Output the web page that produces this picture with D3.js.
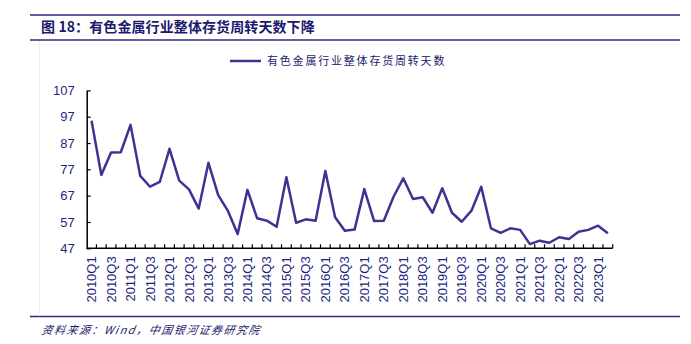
<!DOCTYPE html>
<html>
<head>
<meta charset="utf-8">
<script src="https://cdn.jsdelivr.net/npm/d3@7/dist/d3.min.js"></script>
<style>
  html, body { margin: 0; padding: 0; background: #ffffff; }
  svg { display: block; }
</style>
</head>
<body>
<svg id="chart" width="691" height="344"></svg>
<script>
// Quarterly inventory turnover days, non-ferrous metals industry
const quarters = [
  "2010Q1","2010Q2","2010Q3","2010Q4","2011Q1","2011Q2","2011Q3","2011Q4",
  "2012Q1","2012Q2","2012Q3","2012Q4","2013Q1","2013Q2","2013Q3","2013Q4",
  "2014Q1","2014Q2","2014Q3","2014Q4","2015Q1","2015Q2","2015Q3","2015Q4",
  "2016Q1","2016Q2","2016Q3","2016Q4","2017Q1","2017Q2","2017Q3","2017Q4",
  "2018Q1","2018Q2","2018Q3","2018Q4","2019Q1","2019Q2","2019Q3","2019Q4",
  "2020Q1","2020Q2","2020Q3","2020Q4","2021Q1","2021Q2","2021Q3","2021Q4",
  "2022Q1","2022Q2","2022Q3","2022Q4","2023Q1","2023Q2"
];
const turnoverDays = [
  95.5, 74.9, 83.4, 83.5, 93.9, 74.5, 70.4, 72.2,
  84.8, 72.7, 69.4, 62.1, 79.5, 67.2, 61.2, 52.4,
  69.2, 58.4, 57.5, 55.2, 74.0, 56.7, 58.0, 57.5,
  76.4, 58.8, 53.7, 54.1, 69.5, 57.4, 57.5, 66.6,
  73.6, 65.7, 66.4, 60.5, 69.8, 60.5, 57.1, 61.3,
  70.4, 54.6, 52.9, 54.6, 54.0, 48.6, 49.9, 49.1,
  51.2, 50.5, 53.3, 54.0, 55.6, 52.7
];
// Every other quarter is labelled
const xTickLabels = [
  "2010Q1","2010Q3","2011Q1","2011Q3","2012Q1","2012Q3","2013Q1","2013Q3",
  "2014Q1","2014Q3","2015Q1","2015Q3","2016Q1","2016Q3","2017Q1","2017Q3",
  "2018Q1","2018Q3","2019Q1","2019Q3","2020Q1","2020Q3","2021Q1","2021Q3",
  "2022Q1","2022Q3","2023Q1"
];
const yTicks = [47, 57, 67, 77, 87, 97, 107];

const titleText = "图 18：有色金属行业整体存货周转天数下降";
const seriesName = "有色金属行业整体存货周转天数";
const sourceText = "资料来源：Wind，中国银河证券研究院";

const navy = "#1f1f80";
const lineColor = "#3d3392";
const ruleColor = "#2c2a86";

const svg = d3.select("#chart");

// Header and footer rules
svg.append("line").attr("x1", 30).attr("x2", 680).attr("y1", 15).attr("y2", 15)
  .attr("stroke", ruleColor).attr("stroke-width", 1.5);
svg.append("line").attr("x1", 30).attr("x2", 680).attr("y1", 40).attr("y2", 40)
  .attr("stroke", ruleColor).attr("stroke-width", 1.5);
svg.append("line").attr("x1", 30).attr("x2", 680).attr("y1", 316.5).attr("y2", 316.5)
  .attr("stroke", ruleColor).attr("stroke-width", 1.5);
svg.append("line").attr("x1", 39.5).attr("x2", 39.5).attr("y1", 41).attr("y2", 316)
  .attr("stroke", "#f0f0f4").attr("stroke-width", 1);

svg.append("text")
  .attr("x", 41).attr("y", 32)
  .attr("font-family", "'Noto Sans CJK SC', sans-serif")
  .attr("font-weight", 700).attr("font-size", 14)
  .attr("letter-spacing", 0.1)
  .attr("fill", "#1a1a6e")
  .text(titleText);

svg.append("text")
  .attr("x", 41).attr("y", 334)
  .attr("font-family", "'Noto Sans CJK SC', sans-serif")
  .attr("font-style", "italic").attr("font-size", 11)
  .attr("letter-spacing", 1.5)
  .attr("fill", "#1a1a6e")
  .attr("transform", "skewX(-10) translate(58.9,0)")
  .text(sourceText);

// Legend
svg.append("line").attr("x1", 230).attr("x2", 261).attr("y1", 61).attr("y2", 61)
  .attr("stroke", lineColor).attr("stroke-width", 2.5);
svg.append("text")
  .attr("x", 267).attr("y", 65)
  .attr("font-family", "'Noto Sans CJK SC', sans-serif")
  .attr("font-size", 11).attr("letter-spacing", 1.8)
  .attr("fill", "#1a1a6e")
  .text(seriesName);

// Scales
const x = d3.scaleBand().domain(quarters).range([86.7, 612.7]).padding(0);
const y = d3.scaleLinear().domain([47, 107]).range([248.3, 90.4]);

// Y axis: ticks pointing inward
const yAxis = d3.axisLeft(y).tickValues(yTicks).tickSizeInner(-4).tickSizeOuter(0).tickPadding(12);
const gy = svg.append("g").attr("transform", "translate(86.7,0)").call(yAxis);
gy.select(".domain").attr("stroke", "#000").attr("stroke-width", 1.5);
gy.selectAll(".tick line").attr("stroke", "#000").attr("stroke-width", 1.2);
gy.selectAll(".tick text")
  .attr("font-family", "'Liberation Sans', Arial, sans-serif")
  .attr("font-size", 13).attr("fill", navy);

// X axis: baseline with inward ticks at band boundaries
const gx = svg.append("g");
gx.append("line")
  .attr("x1", x.range()[0]).attr("x2", x.range()[1])
  .attr("y1", y(47)).attr("y2", y(47))
  .attr("stroke", "#000").attr("stroke-width", 1.5);
gx.selectAll("line.tk")
  .data(quarters)
  .join("line")
  .attr("class", "tk")
  .attr("x1", d => x(d) + x.bandwidth())
  .attr("x2", d => x(d) + x.bandwidth())
  .attr("y1", y(47)).attr("y2", y(47) - 4)
  .attr("stroke", "#000").attr("stroke-width", 1.2);

gx.selectAll("text.lbl")
  .data(xTickLabels)
  .join("text")
  .attr("class", "lbl")
  .attr("transform", d => `translate(${x(d) + x.bandwidth() / 2},${y(47) + 8}) rotate(-90)`)
  .attr("text-anchor", "end")
  .attr("dy", "0.35em")
  .attr("font-family", "'Liberation Sans', Arial, sans-serif")
  .attr("font-size", 13)
  .attr("fill", navy)
  .text(d => d);

// Series line
const line = d3.line()
  .x((d, i) => x(quarters[i]) + x.bandwidth() / 2)
  .y(d => y(d));

svg.append("path")
  .datum(turnoverDays)
  .attr("fill", "none")
  .attr("stroke", lineColor)
  .attr("stroke-width", 2.5)
  .attr("stroke-linejoin", "round")
  .attr("d", line);
</script>
</body>
</html>
